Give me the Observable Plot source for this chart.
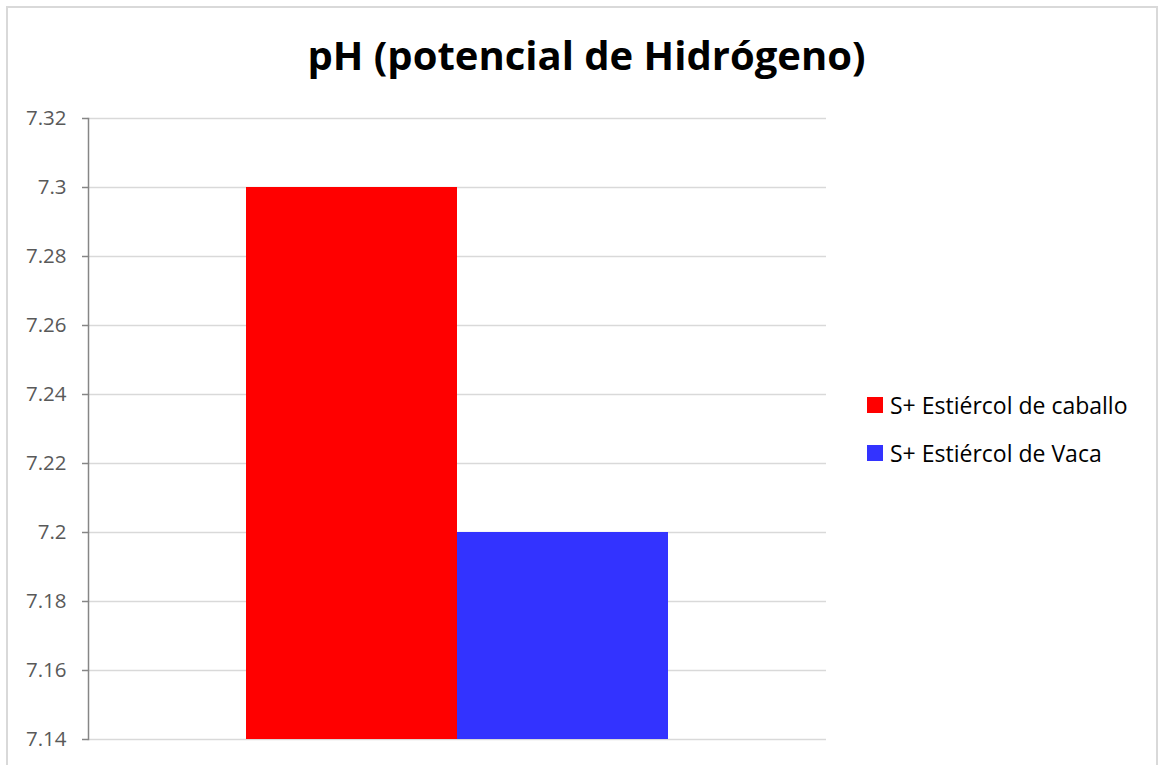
<!DOCTYPE html>
<html>
<head>
<meta charset="utf-8">
<script src="https://cdn.jsdelivr.net/npm/d3@7"></script>
<script src="https://cdn.jsdelivr.net/npm/@observablehq/plot@0.6"></script>
<style>
  html, body { margin: 0; padding: 0; background: #fff; }
  #wrap { position: relative; width: 1158px; height: 765px; overflow: hidden; font-family: "Open Sans", sans-serif; }
  #frame { position: absolute; left: 6px; top: 6px; width: 1152px; height: 800px; border: 2px solid #d9d9d9; box-sizing: border-box; }
  #title { position: absolute; left: 0; width: 1173px; top: 27px; line-height: normal; text-align: center; font-weight: 700; font-size: 40px; color: #000; white-space: nowrap; }
  #legend { position: absolute; left: 867px; top: 381px; font-size: 23px; color: #000; }
  .item { display: flex; align-items: center; height: 48px; }
  .sw { width: 16px; height: 16px; margin-right: 7px; flex: none; }
  #chart { position: absolute; left: 0; top: 0; }
</style>
</head>
<body>
<div id="wrap">
  <div id="frame"></div>
  <div id="chart"></div>
  <div id="title">pH (potencial de Hidrógeno)</div>
  <div id="legend"></div>
</div>
<script>
const series = ["S+ Estiércol de caballo", "S+ Estiércol de Vaca"];
const values = [7.3, 7.2];
const colors = ["#ff0000", "#3333ff"];
const yTicks = [7.14, 7.16, 7.18, 7.2, 7.22, 7.24, 7.26, 7.28, 7.3, 7.32];
const yBase = 7.14;

const data = series.map((s, i) => ({series: s, value: values[i]}));
const fmt = d => String(+d.toFixed(2));

const chart = Plot.plot({
  width: 1158,
  height: 765,
  marginLeft: 88,
  marginRight: 332,
  marginTop: 118,
  marginBottom: 26,
  style: {fontFamily: "Open Sans, sans-serif", fontSize: "20.5px", color: "#595959", background: "transparent"},
  x: {domain: series, paddingInner: 0, paddingOuter: 0.745, axis: null},
  y: {domain: [7.14, 7.32], axis: null},
  color: {domain: series, range: colors},
  marks: [
    Plot.gridY(yTicks, {stroke: "#d9d9d9", strokeOpacity: 1, strokeWidth: 1.5}),
    Plot.barY(data, {x: "series", y1: () => yBase, y2: "value", fill: "series", inset: 0}),
    Plot.axisY(yTicks, {tickSize: 6, tickPadding: 16, stroke: "#868686", strokeWidth: 1.5,
      tickFormat: fmt, label: null, fill: "#595959"}),
    Plot.frame({anchor: "left", stroke: "#868686", strokeWidth: 1.5})
  ]
});
document.getElementById("chart").appendChild(chart);

const legend = document.getElementById("legend");
series.forEach((s, i) => {
  const it = document.createElement("div");
  it.className = "item";
  const sw = document.createElement("div");
  sw.className = "sw";
  sw.style.background = colors[i];
  const t = document.createElement("span");
  t.textContent = s;
  it.appendChild(sw); it.appendChild(t);
  legend.appendChild(it);
});
</script>
</body>
</html>
